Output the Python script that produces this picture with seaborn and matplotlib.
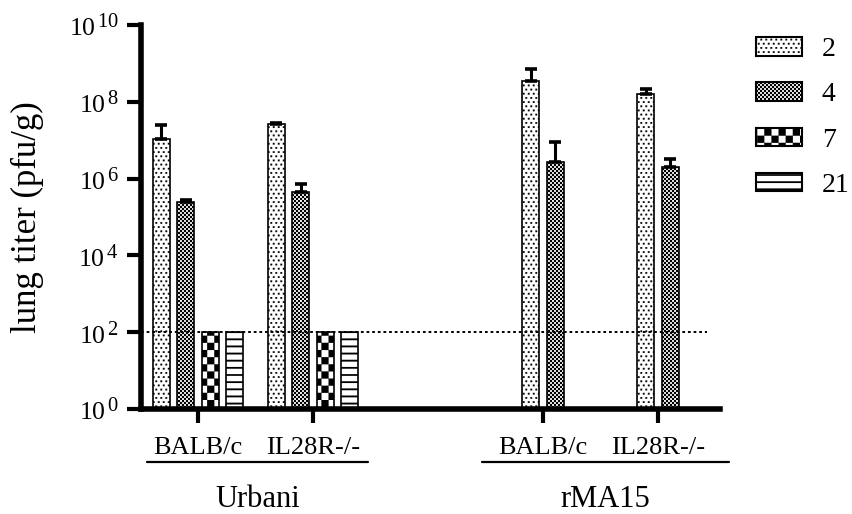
import numpy as np
import pandas as pd
import matplotlib
matplotlib.use("Agg")
import matplotlib.pyplot as plt
import matplotlib.hatch as mhatch
import matplotlib._mathtext as mmathtext
from matplotlib.path import Path
from matplotlib.patches import Patch
from matplotlib.lines import Line2D
from matplotlib.ticker import NullLocator
from matplotlib.transforms import blended_transform_factory
import seaborn as sns

# ---------------------------------------------------------------- data
days = ["2", "4", "7", "21"]
strains = ["BALB/c", "IL28R-/-", "BALB/c", "IL28R-/-"]
viruses = ["Urbani", "rMA15"]
group_pos = [0, 1, 3, 4]

# mean lung titer (pfu/g) per mouse group, one list per day post infection
titer_day2 = [1.1e7, 2.6e7, 3.5e8, 1.6e8]
titer_day4 = [2.4e5, 4.5e5, 2.7e6, 2.0e6]
titer_day7 = [1e2, 1e2, np.nan, np.nan]
titer_day21 = [1e2, 1e2, np.nan, np.nan]

# upper end of the error bar for each mean
upper_day2 = [2.5e7, 2.8e7, 7.0e8, 2.15e8]
upper_day4 = [2.8e5, 7.2e5, 8.9e6, 3.2e6]
upper_day7 = [np.nan, np.nan, np.nan, np.nan]
upper_day21 = [np.nan, np.nan, np.nan, np.nan]

detection_limit = 1e2
y_ticks = [1e0, 1e2, 1e4, 1e6, 1e8, 1e10]


# ------------------------------------------------------ fill patterns
class TileHatch(mhatch.HatchPatternBase):
    """Hatch built from filled rectangles inside the unit hatch tile."""
    char = None

    def __init__(self, hatch, density):
        self.rects = self.rectangles() if (hatch and self.char in hatch) else []
        self.num_vertices = 5 * len(self.rects)

    def rectangles(self):
        return []

    def set_vertices_and_codes(self, vertices, codes):
        for k, (x0, y0, w, h) in enumerate(self.rects):
            vertices[5 * k:5 * k + 5] = [(x0, y0), (x0 + w, y0), (x0 + w, y0 + h),
                                         (x0, y0 + h), (x0, y0)]
            codes[5 * k:5 * k + 5] = [Path.MOVETO, Path.LINETO, Path.LINETO,
                                      Path.LINETO, Path.CLOSEPOLY]


class DotLattice(TileHatch):
    char = "."

    def rectangles(self):
        cols, rows, size = 20, 24, 0.017
        out = []
        for r in range(rows):
            for c in range(cols):
                x = (c + 0.25 + 0.5 * (r % 2)) / cols
                y = (r + 0.5) / rows
                out.append((x - size / 2, y - size / 2, size, size))
        return out


class Checkerboard(TileHatch):
    cells = 2

    def rectangles(self):
        s = 1.0 / self.cells
        return [(i * s, j * s, s, s) for i in range(self.cells)
                for j in range(self.cells) if (i + j) % 2 == 0]


class FineChecker(Checkerboard):
    char = "+"
    cells = 50


class CoarseChecker(Checkerboard):
    char = "O"
    cells = 14


class Stripes(TileHatch):
    char = "-"

    def rectangles(self):
        n, thick = 14, 0.017
        return [(0.0, (k + 0.5) / n - thick / 2, 1.0, thick) for k in range(n)]


mhatch._hatch_types[:] = [DotLattice, FineChecker, CoarseChecker, Stripes]
hatch_for_day = {"2": ".", "4": "+", "7": "O", "21": "-"}

# larger exponents on the decade labels
mmathtext.SHRINK_FACTOR = 0.8

# ---------------------------------------------------------- tidy table
SLOT = 0.213
titers = [titer_day2, titer_day4, titer_day7, titer_day21]
uppers = [upper_day2, upper_day4, upper_day7, upper_day21]
rows = []
for g, center in enumerate(group_pos):
    present = [d for d in range(len(days)) if not np.isnan(titers[d][g])]
    n = len(present)
    for k, d in enumerate(present):
        rows.append({"day": days[d],
                     "pos": center + (k - (n - 1) / 2) * SLOT,
                     "titer": titers[d][g],
                     "upper": uppers[d][g]})
df = pd.DataFrame(rows)

# --------------------------------------------------------------- style
sns.set_theme(style="ticks")
plt.rcParams["font.family"] = ["Liberation Serif", "DejaVu Serif"]
plt.rcParams["mathtext.fontset"] = "custom"
plt.rcParams["mathtext.rm"] = "Liberation Serif"
plt.rcParams["mathtext.it"] = "Liberation Serif:italic"
plt.rcParams["mathtext.default"] = "regular"
plt.rcParams["hatch.linewidth"] = 0.1
plt.rcParams["hatch.color"] = "black"
for key in ("text.color", "axes.labelcolor", "axes.edgecolor",
            "xtick.color", "ytick.color"):
    plt.rcParams[key] = "black"

fig = plt.figure(figsize=(8.52, 5.14), dpi=100)
ax = fig.add_axes([141 / 852, 105 / 514, 579 / 852, 384 / 514])

sns.barplot(data=df, x="pos", y="titer", hue="day", hue_order=days,
            native_scale=True, dodge=False, width=0.695, errorbar=None,
            palette=["white"] * len(days), legend=False, ax=ax)

for day, container in zip(days, ax.containers):
    for bar in container:
        bar.set_facecolor("white")
        bar.set_edgecolor("black")
        bar.set_linewidth(1.2)
        bar.set_hatch(hatch_for_day[day])
        bar.set_zorder(2)

err = df.dropna(subset=["upper"])
ax.errorbar(err["pos"], err["titer"],
            yerr=[np.zeros(len(err)), err["upper"] - err["titer"]],
            fmt="none", ecolor="black", elinewidth=2.2, capsize=4.2,
            capthick=2.6, zorder=3)

ax.set_yscale("log")
ax.set_ylim(y_ticks[0], y_ticks[-1])
ax.set_xlim(group_pos[0] - 0.496, group_pos[-1] + 0.54)

# limit of detection
ax.plot([group_pos[0] - 0.496, group_pos[-1] + 0.43],
        [detection_limit, detection_limit], color="black", lw=1.4,
        linestyle=(0, (1.4, 1.5)), zorder=4, clip_on=False)

ax.set_yticks(y_ticks)
ax.set_yticklabels([f"$10^{{\\,{int(np.log10(v))}}}$" for v in y_ticks],
                   fontsize=18.5)
ax.yaxis.set_minor_locator(NullLocator())
ax.set_xticks(group_pos)
ax.set_xticklabels(strains, fontsize=19)
ax.set_xlabel("")
ax.set_ylabel("lung titer (pfu/g)", fontsize=25, labelpad=18)

for side in ("top", "right"):
    ax.spines[side].set_visible(False)
for side in ("left", "bottom"):
    ax.spines[side].set_linewidth(4)
    ax.spines[side].set_color("black")
ax.tick_params(axis="both", which="major", length=10, width=3,
               color="black", labelcolor="black")
ax.tick_params(axis="y", pad=6)
ax.tick_params(axis="x", pad=10)

# virus grouping below the strain labels
trans = blended_transform_factory(ax.transData, ax.transAxes)
spans = [(group_pos[0] - 0.44, group_pos[1] + 0.48),
         (group_pos[2] - 0.53, group_pos[3] + 0.62)]
for virus, (x0, x1) in zip(viruses, spans):
    ax.add_line(Line2D([x0, x1], [-0.138, -0.138], color="black", lw=1.6,
                       transform=trans, clip_on=False))
    ax.text((x0 + x1) / 2, -0.236, virus, transform=trans, fontsize=22,
            ha="center", va="center")

# legend for days post infection
handles = [Patch(facecolor="white", edgecolor="black", linewidth=1.5,
                 hatch=hatch_for_day[d]) for d in days]
fig.legend(handles, days, loc="upper left",
           bbox_to_anchor=(756 / 852, 1 - 37 / 514), frameon=False,
           fontsize=20, handlelength=1.65, handleheight=0.65,
           handletextpad=0.72, labelspacing=0.73, borderpad=0,
           borderaxespad=0)

fig.savefig("out.png", dpi=100, facecolor="white")
